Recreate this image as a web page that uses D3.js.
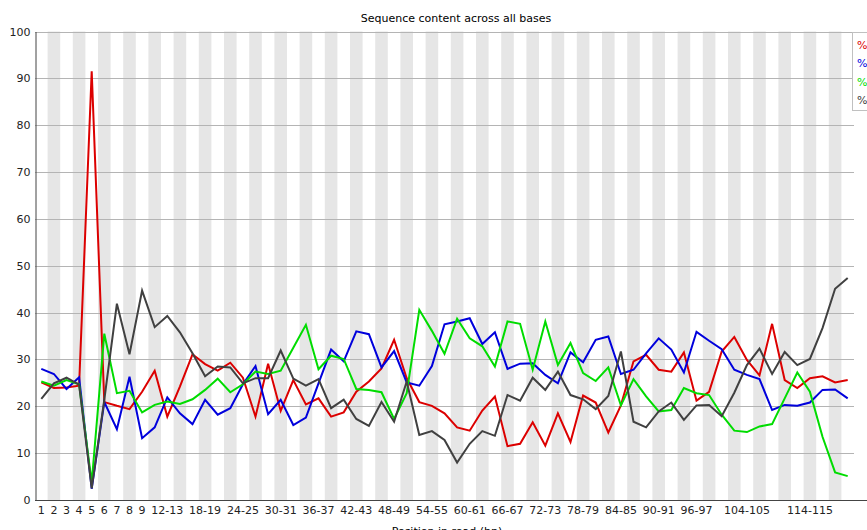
<!DOCTYPE html>
<html>
<head>
<meta charset="utf-8">
<script src="https://cdn.jsdelivr.net/npm/d3@7/dist/d3.min.js"></script>
<style>
  html, body { margin: 0; padding: 0; background: #fff; }
  svg { display: block; }
  text { font-family: "DejaVu Sans", sans-serif; }
</style>
</head>
<body>
<svg id="chart" width="867" height="530"></svg>
<script>
// Base position groups along the read
const positions = ["1","2","3","4","5","6","7","8","9",
  "10-11","12-13","14-15","16-17","18-19","20-21","22-23","24-25","26-27","28-29",
  "30-31","32-33","34-35","36-37","38-39","40-41","42-43","44-45","46-47","48-49",
  "50-51","52-53","54-55","56-57","58-59","60-61","62-63","64-65","66-67","68-69",
  "70-71","72-73","74-75","76-77","78-79","80-81","82-83","84-85","86-87","88-89",
  "90-91","92-93","94-95","96-97","98-99","100-101","102-103","104-105","106-107",
  "108-109","110-111","112-113","114-115","116-117","118-119","120-121"];

// Axis labels that are printed
const xTickLabels = ["1","2","3","4","5","6","7","8","9","12-13","18-19","24-25","30-31",
  "36-37","42-43","48-49","54-55","60-61","66-67","72-73","78-79","84-85","90-91",
  "96-97","104-105","114-115"];
const yTicks = [0,10,20,30,40,50,60,70,80,90,100];

// Percentage of each base at every position
const pctT = [25.1,23.9,24.0,24.4,91.5,20.9,20.1,19.4,23.1,27.6,17.8,24.2,31.1,29.0,27.6,29.3,
  26.1,17.8,29.1,19.0,25.6,20.4,21.7,17.8,18.7,23.1,25.3,28.1,34.2,26.0,20.9,20.1,18.5,15.5,
  14.8,19.1,22.1,11.5,12.0,16.6,11.6,18.5,12.4,22.3,20.8,14.4,20.2,29.6,31.0,27.8,27.4,31.5,
  21.2,23.1,31.7,34.8,29.9,26.6,37.6,25.6,23.9,26.0,26.4,25.1,25.6];
const pctC = [28.0,26.9,23.7,26.2,2.4,20.9,15.1,26.3,13.2,15.5,21.9,18.5,16.2,21.4,18.2,19.6,
  24.7,28.6,18.3,21.4,16.0,17.6,24.9,32.1,29.6,36.0,35.4,28.3,31.8,25.1,24.4,28.6,37.5,38.1,
  38.8,33.3,35.8,28.0,29.1,29.2,26.7,24.9,31.5,29.4,34.2,34.9,26.9,27.8,31.3,34.5,32.1,27.2,
  35.9,34.0,32.2,27.8,26.7,25.8,19.2,20.3,20.1,20.8,23.5,23.6,21.7];
const pctA = [25.3,24.4,25.6,24.7,3.7,35.5,22.8,23.3,18.7,20.3,21.0,20.5,21.5,23.5,25.9,23.0,
  24.7,27.4,26.9,27.6,32.5,37.4,27.9,30.8,30.1,23.7,23.5,23.0,17.3,22.8,40.6,36.1,31.2,38.7,
  34.5,32.8,28.5,38.1,37.6,27.8,38.1,28.8,33.5,27.1,25.4,28.3,20.2,25.8,22.1,18.9,19.2,23.9,
  22.8,22.4,18.2,14.8,14.5,15.7,16.2,21.7,27.2,23.1,13.5,5.9,5.1];
const pctG = [21.6,24.9,26.1,24.6,2.5,21.4,41.9,31.1,44.7,36.9,39.3,35.8,31.3,26.4,28.5,28.3,
  24.9,26.0,26.0,31.9,25.9,24.4,25.8,19.6,21.4,17.3,15.8,20.9,16.7,25.3,13.9,14.7,12.8,8.0,
  12.0,14.7,13.7,22.4,21.2,26.1,23.5,27.4,22.4,21.5,19.4,22.2,31.7,16.7,15.5,18.9,20.8,17.1,
  20.2,20.3,17.9,22.9,28.8,32.3,26.9,31.6,28.8,30.1,36.7,45.1,47.4];

const seriesNames = ["%T","%C","%A","%G"];
const seriesColors = ["#dc0000","#0000dc","#00dc00","#404040"];
const seriesValues = [pctT, pctC, pctA, pctG];

const svg = d3.select("#chart");
const plotLeft = 35, plotTop = 31.5, plotBottom = 500;
const bandW = 12.6;
const plotRight = plotLeft + bandW * positions.length;

const x = d3.scaleBand().domain(positions).range([plotLeft, plotRight]).padding(0);
const y = d3.scaleLinear().domain([0, 100]).range([plotBottom, plotTop]);

// alternating background bands
svg.append("g").selectAll("rect")
  .data(positions.filter((d, i) => i % 2 === 1))
  .join("rect")
  .attr("x", d => x(d))
  .attr("y", plotTop)
  .attr("width", x.bandwidth())
  .attr("height", plotBottom - plotTop)
  .attr("fill", "#e6e6e6");

// horizontal grid lines
svg.append("g").selectAll("line")
  .data(yTicks.filter(v => v > 0))
  .join("line")
  .attr("x1", plotLeft).attr("x2", plotRight)
  .attr("y1", d => Math.round(y(d)) + 0.5)
  .attr("y2", d => Math.round(y(d)) + 0.5)
  .attr("stroke", "#b4b4b4")
  .attr("stroke-width", 1);

// title
svg.append("text")
  .attr("x", 456).attr("y", 21.5)
  .attr("text-anchor", "middle")
  .attr("font-size", 11)
  .attr("fill", "#000")
  .text("Sequence content across all bases");

// y axis
const yAxis = svg.append("g")
  .attr("transform", `translate(${plotLeft + 0.5},0)`)
  .call(d3.axisLeft(y).tickValues(yTicks).tickSize(0).tickSizeOuter(0).tickPadding(5));
yAxis.select(".domain").attr("stroke", "#444");
yAxis.selectAll("text").attr("font-family", "DejaVu Sans, sans-serif")
  .attr("font-size", 11).attr("fill", "#222");

// x axis
const xAxis = svg.append("g")
  .attr("transform", `translate(0,${plotBottom + 0.5})`)
  .call(d3.axisBottom(x).tickValues(xTickLabels).tickSize(0).tickSizeOuter(0).tickPadding(4));
xAxis.select(".domain").remove();
xAxis.selectAll("text").attr("font-family", "DejaVu Sans, sans-serif")
  .attr("font-size", 11).attr("fill", "#222").attr("dy", "0.9em");
svg.append("line")
  .attr("x1", plotLeft).attr("x2", 867)
  .attr("y1", plotBottom + 0.5).attr("y2", plotBottom + 0.5)
  .attr("stroke", "#444");

// x axis title
svg.append("text")
  .attr("x", 447).attr("y", 535)
  .attr("text-anchor", "middle")
  .attr("font-size", 11)
  .attr("fill", "#000")
  .text("Position in read (bp)");

// base composition lines
const line = d3.line()
  .x((d, i) => x(positions[i]) + x.bandwidth() / 2)
  .y(d => y(d));

svg.append("g").selectAll("path")
  .data(seriesValues)
  .join("path")
  .attr("d", d => line(d))
  .attr("fill", "none")
  .attr("stroke", (d, i) => seriesColors[i])
  .attr("stroke-width", 2)
  .attr("stroke-linejoin", "miter");

// legend
const legend = svg.append("g");
legend.append("rect")
  .attr("x", 852.5).attr("y", 32.5)
  .attr("width", 40).attr("height", 78)
  .attr("fill", "#fff")
  .attr("stroke", "#c0c0c0");
legend.selectAll("text")
  .data(seriesNames)
  .join("text")
  .attr("x", 857)
  .attr("y", (d, i) => 48.5 + i * 18.5)
  .attr("font-size", 11)
  .attr("fill", (d, i) => seriesColors[i])
  .text(d => d);
</script>
</body>
</html>
